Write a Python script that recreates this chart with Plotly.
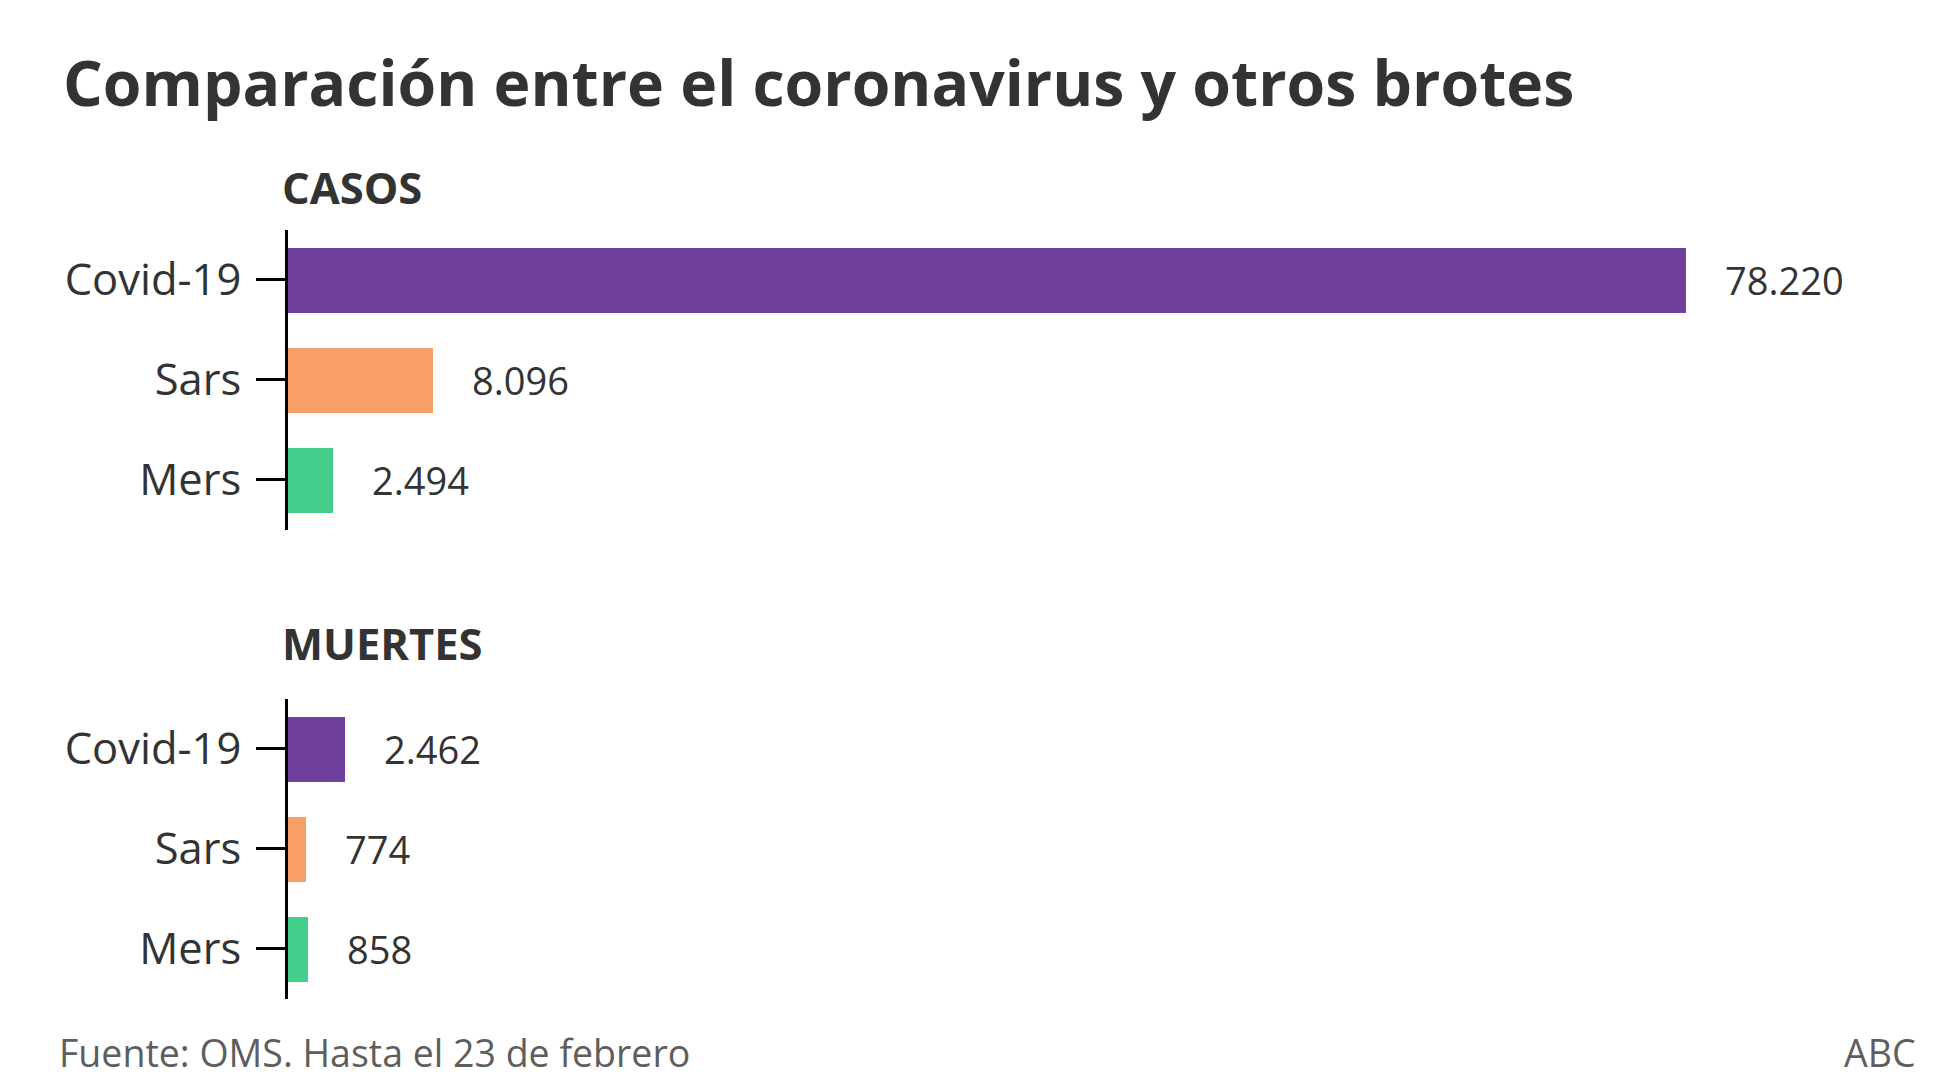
import plotly.graph_objects as go
from plotly.subplots import make_subplots

W, H = 1937, 1090
OFF_X, OFF_Y = 6, 8  # page margin shifts the whole figure

categories = ["Covid-19", "Sars", "Mers"]
casos = [78220, 8096, 2494]
muertes = [2462, 774, 858]
bar_colors = ["#6f409b", "#f89e68", "#44cd8b"]

title = "Comparación entre el coronavirus y otros brotes"
panel_titles = ["CASOS", "MUERTES"]
source = "Fuente: OMS. Hasta el 23 de febrero"
credit = "ABC"

FONT = "Open Sans"
TEXT = "#333333"


def px_x(x):
    return (x - OFF_X) / W


def px_y(y):
    # pixel from top of the page -> paper fraction from bottom
    return 1 - (y - OFF_Y) / H


def fmt(v):
    return f"{v:,}".replace(",", ".")


fig = make_subplots(rows=2, cols=1)

for row, values in enumerate([casos, muertes], start=1):
    fig.add_trace(
        go.Bar(
            x=values,
            y=categories,
            orientation="h",
            width=0.65,
            marker=dict(color=bar_colors, line=dict(width=0)),
            hoverinfo="skip",
            showlegend=False,
        ),
        row=row,
        col=1,
    )

annotations = []
for row, values in enumerate([casos, muertes], start=1):
    xref = "x" if row == 1 else "x2"
    yref = "y" if row == 1 else "y2"
    for cat, v in zip(categories, values):
        annotations.append(
            dict(
                x=v,
                y=cat,
                xref=xref,
                yref=yref,
                text=fmt(v),
                showarrow=False,
                xanchor="left",
                yanchor="middle",
                xshift=37,
                font=dict(family=FONT, size=38, color=TEXT),
            )
        )

# title, panel headers, footer
annotations += [
    dict(
        x=px_x(59),
        y=px_y(82),
        xref="paper",
        yref="paper",
        text=title,
        showarrow=False,
        xanchor="left",
        yanchor="middle",
        font=dict(family=FONT, size=62.5, color=TEXT, weight=700),
    ),
    dict(
        x=px_x(278),
        y=px_y(187),
        xref="paper",
        yref="paper",
        text=panel_titles[0],
        showarrow=False,
        xanchor="left",
        yanchor="middle",
        font=dict(family=FONT, size=43.5, color=TEXT, weight=700),
    ),
    dict(
        x=px_x(278),
        y=px_y(643),
        xref="paper",
        yref="paper",
        text=panel_titles[1],
        showarrow=False,
        xanchor="left",
        yanchor="middle",
        font=dict(family=FONT, size=43.5, color=TEXT, weight=700),
    ),
    dict(
        x=px_x(55),
        y=px_y(1052),
        xref="paper",
        yref="paper",
        text=source,
        showarrow=False,
        xanchor="left",
        yanchor="middle",
        font=dict(family=FONT, size=37.5, color="#5e5e5e"),
    ),
    dict(
        x=px_x(1916),
        y=px_y(1052),
        xref="paper",
        yref="paper",
        text=credit,
        showarrow=False,
        xanchor="right",
        yanchor="middle",
        font=dict(family=FONT, size=37.5, color="#5e5e5e"),
    ),
]

x_dom = [px_x(286), px_x(1850)]
fig.update_xaxes(visible=False, domain=x_dom, fixedrange=True)
fig.update_xaxes(range=[0, 87507], row=1, col=1)
fig.update_xaxes(range=[0, 67560], row=2, col=1)

fig.update_yaxes(
    type="category",
    autorange=False,
    range=[2.5, -0.5],
    showgrid=False,
    zeroline=False,
    showline=True,
    linecolor="black",
    linewidth=3,
    ticks="outside",
    ticklen=29,
    tickwidth=3,
    tickcolor="black",
    ticklabelstandoff=6,
    tickfont=dict(family=FONT, size=43.5, color=TEXT),
    fixedrange=True,
)
fig.update_yaxes(domain=[px_y(529.5), px_y(229.5)], row=1, col=1)
fig.update_yaxes(domain=[px_y(998.5), px_y(698.5)], row=2, col=1)

fig.update_layout(
    width=W,
    height=H,
    margin=dict(l=0, r=0, t=0, b=0),
    paper_bgcolor="white",
    plot_bgcolor="white",
    bargap=0,
    annotations=annotations,
    font=dict(family=FONT, color=TEXT),
)

fig.write_html("out.html")
